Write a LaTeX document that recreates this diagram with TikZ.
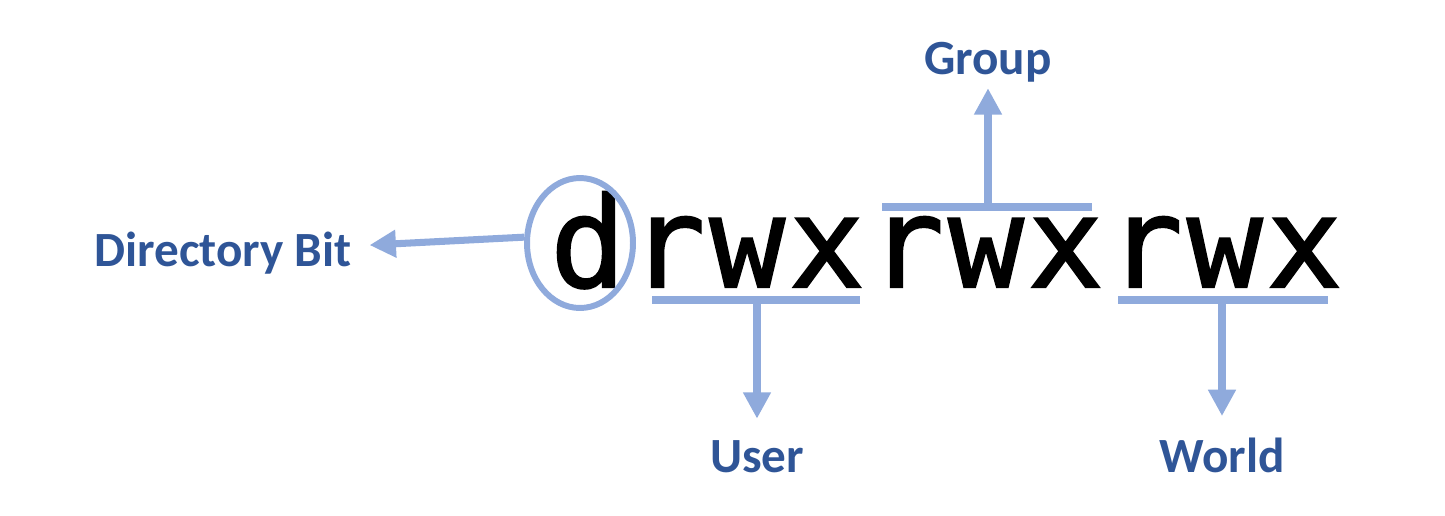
\documentclass[tikz,border=0pt]{standalone}
\usepackage{fontspec}
\setmainfont{Carlito}
\newfontfamily\bitfont[FakeBold=1.6]{DejaVu Sans Mono}
\usetikzlibrary{arrows.meta,shapes.geometric}
\definecolor{LabelBlue}{RGB}{47,85,151}
\definecolor{LineBlue}{RGB}{143,170,220}

\begin{document}
\begin{tikzpicture}[
      x=0.02cm,y=-0.02cm,
      bitChar/.style={inner sep=0pt,anchor=base,font=\bitfont\fontsize{71.5}{80}\selectfont},
      permLabel/.style={inner sep=0pt,text=LabelBlue,font=\fontsize{28}{32}\selectfont\bfseries},
      barLine/.style={LineBlue,line width=4.5pt},
      arPerm/.style={-{Triangle[length=15pt,width=15pt]},LineBlue,line width=4.5pt}
    ]
    \useasboundingbox (0,0) rectangle (1445,515);

    % the permission string
    \foreach \ch [count=\i] in {d,r,w,x,r,w,x,r,w,x}
      \node(b\i)[bitChar] at ({588+(\i-1)*79.6},287) {\ch};

    % Directory bit
    \node(dcirc)[ellipse,draw=LineBlue,line width=3.4pt,
                 minimum width=2.12cm,minimum height=2.6cm] at (580,243) {};
    \node(dirbit)[permLabel,anchor=base east] at (352,266) {Directory Bit};
    \draw[arPerm,line width=4pt,shorten >=10pt] (dcirc.174) -- (dirbit);

    % brackets under / over the three groups
    \draw[barLine] (652,300) -- (860,300);
    \draw[barLine] (882,207) -- (1092,207);
    \draw[barLine] (1118,300) -- (1328,300);
    \coordinate (ubar) at (757,300);
    \coordinate (gbar) at (988,207);
    \coordinate (wbar) at (1222,300);

    % labels
    \node(usr)[permLabel,anchor=base] at (757,472) {User};
    \node(grp)[permLabel,anchor=base] at (988,74) {Group};
    \node(wld)[permLabel,anchor=base] at (1222,472) {World};

    \draw[arPerm,shorten >=12pt] (ubar) -- (ubar |- usr.north);
    \draw[arPerm,shorten >=3.5pt] (gbar) -- (gbar |- grp.south);
    \draw[arPerm,shorten >=12pt] (wbar) -- (wbar |- wld.north);
  \end{tikzpicture}
\end{document}
